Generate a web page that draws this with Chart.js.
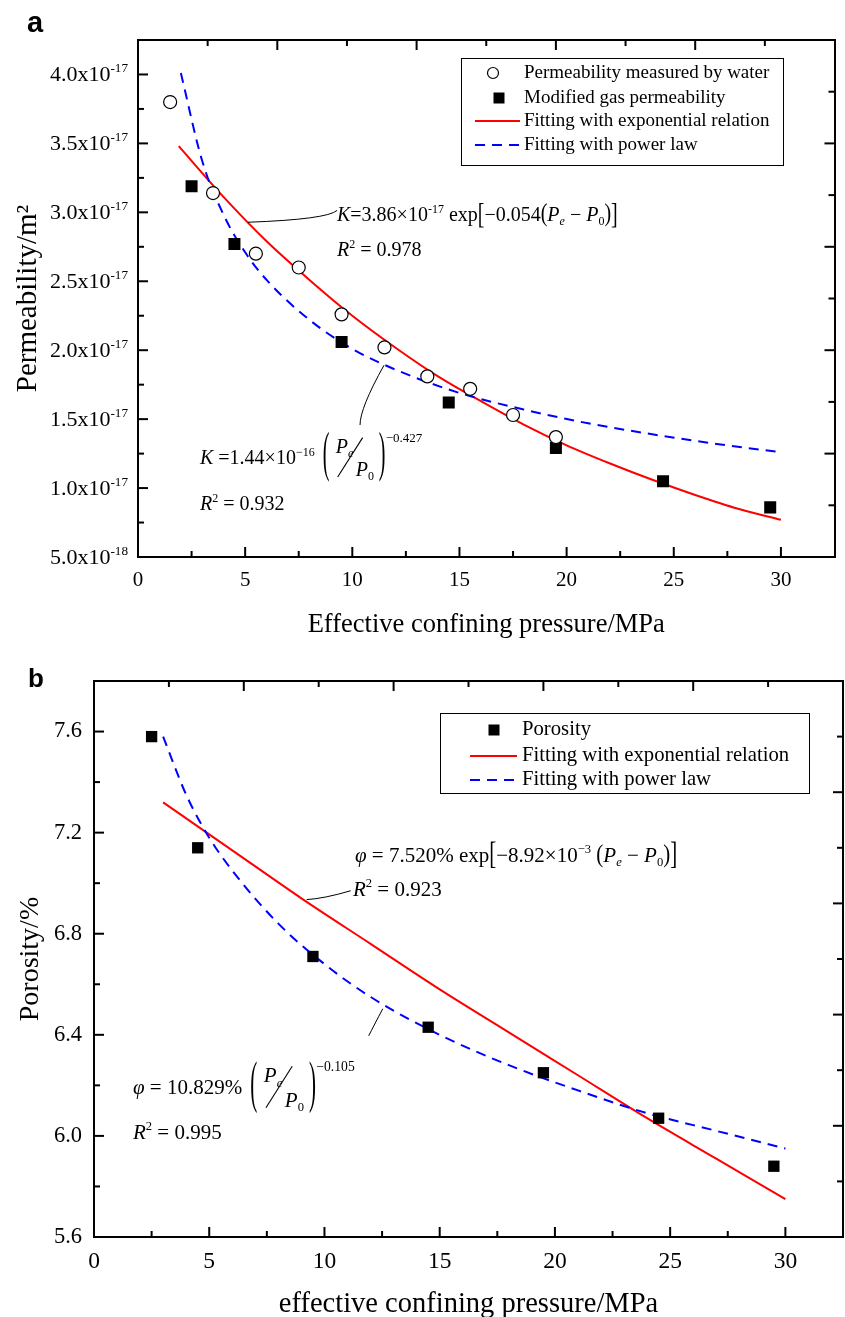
<!DOCTYPE html>
<html>
<head>
<meta charset="utf-8">
<script src="https://cdn.jsdelivr.net/npm/chart.js@4.4.0/dist/chart.umd.min.js"></script>
<style>
  html, body { margin: 0; padding: 0; background: #fff; }
  #wrap { position: relative; width: 845px; height: 1317px; }
  canvas { position: absolute; left: 0; }
  #chartA { top: 0; }
  #chartB { top: 645px; }
</style>
</head>
<body>
<div id="wrap">
  <canvas id="chartA" width="845" height="645"></canvas>
  <canvas id="chartB" width="845" height="672"></canvas>
</div>
<script>
// ==== Fonts ====
const SERIF = '"Liberation Serif", "Times New Roman", Times, serif';
const SANS = '"Liberation Sans", Arial, sans-serif';

// ==== Shared axes ====
const xMajor = [0, 5, 10, 15, 20, 25, 30];
const xMinor = [2.5, 7.5, 12.5, 17.5, 22.5, 27.5];
// top / right frame axes (Origin keeps them on their own 0..1 scale)
const frameMajor = [0.2, 0.4, 0.6, 0.8];
const frameMinor = [0.1, 0.3, 0.5, 0.7, 0.9];

// ==== Panel a : permeability ====
const waterP = [1.5, 3.5, 5.5, 7.5, 9.5, 11.5, 13.5, 15.5, 17.5, 19.5];
const waterK = [3.80e-17, 3.14e-17, 2.70e-17, 2.60e-17, 2.26e-17, 2.02e-17, 1.81e-17, 1.72e-17, 1.53e-17, 1.37e-17];
const gasP = [2.5, 4.5, 9.5, 14.5, 19.5, 24.5, 29.5];
const gasK = [3.19e-17, 2.77e-17, 2.06e-17, 1.62e-17, 1.29e-17, 1.05e-17, 0.86e-17];
const kExpP = [1.9, 4, 6, 8, 10, 12, 14, 16, 18, 20, 22, 24, 26, 28, 30];
const kExpK = [3.48e-17, 3.11e-17, 2.79e-17, 2.51e-17, 2.25e-17, 2.02e-17, 1.81e-17, 1.63e-17, 1.46e-17, 1.31e-17, 1.18e-17, 1.06e-17, 0.95e-17, 0.85e-17, 0.77e-17];
const kPowP = [2, 3, 4, 5, 6, 8, 10, 12, 15, 18, 21, 24, 27, 30];
const kPowK = [4.01e-17, 3.37e-17, 2.98e-17, 2.71e-17, 2.51e-17, 2.22e-17, 2.01e-17, 1.86e-17, 1.69e-17, 1.57e-17, 1.47e-17, 1.39e-17, 1.32e-17, 1.26e-17];
const kMajor = [0.5e-17, 1.0e-17, 1.5e-17, 2.0e-17, 2.5e-17, 3.0e-17, 3.5e-17, 4.0e-17];
const kMinor = [0.75e-17, 1.25e-17, 1.75e-17, 2.25e-17, 2.75e-17, 3.25e-17, 3.75e-17];
const kTickBase = ["5.0x10", "1.0x10", "1.5x10", "2.0x10", "2.5x10", "3.0x10", "3.5x10", "4.0x10"];
const kTickExp = ["-18", "-17", "-17", "-17", "-17", "-17", "-17", "-17"];

// ==== Panel b : porosity ====
const porP = [2.5, 4.5, 9.5, 14.5, 19.5, 24.5, 29.5];
const porV = [7.58, 7.14, 6.71, 6.43, 6.25, 6.07, 5.88];
const pExpP = [3, 6, 9, 12, 15, 18, 21, 24, 27, 30];
const pExpV = [7.32, 7.13, 6.94, 6.76, 6.58, 6.41, 6.24, 6.07, 5.91, 5.75];
const pPowP = [3, 4, 5, 6, 8, 10, 12, 15, 18, 21, 24, 27, 30];
const pPowV = [7.58, 7.35, 7.18, 7.05, 6.84, 6.68, 6.55, 6.40, 6.28, 6.18, 6.09, 6.02, 5.95];
const pMajor = [5.6, 6.0, 6.4, 6.8, 7.2, 7.6];
const pMinor = [5.8, 6.2, 6.6, 7.0, 7.4];

// ==== Helpers ====
const pts = (xs, ys) => xs.map((x, i) => ({ x, y: ys[i] }));
// keep the plot box exactly where the layout padding puts it
const noEdge = s => { s.paddingLeft = 0; s.paddingRight = 0; s.paddingTop = 0; s.paddingBottom = 0; };

// stretched glyph (tall brackets / parentheses)
function tallGlyph(ctx, ch, x, yc, h, fs) {
  ctx.font = fs + 'px ' + SERIF;
  const k = h / (0.86 * fs);
  ctx.save();
  ctx.translate(x, yc + 0.255 * fs * k);
  ctx.scale(1, k);
  ctx.fillText(ch, 0, 0);
  ctx.restore();
  return ctx.measureText(ch).width;
}

// rich text: flags i = italic, u = superscript, d = subscript, B = tall bracket, P = tall paren
function rich(ctx, x, y, segs, fs) {
  let cx = x;
  segs.forEach(([t, f = '']) => {
    if (f.includes('B') || f.includes('P')) {
      const h = f.includes('B') ? 1.3 * fs : 1.05 * fs;
      cx += tallGlyph(ctx, t, cx, y - 0.3 * fs, h, fs);
      return;
    }
    let size = fs, dy = 0;
    if (f.includes('u')) { size = fs * 0.6; dy = -fs * 0.42; }
    if (f.includes('d')) { size = fs * 0.6; dy = fs * 0.2; }
    ctx.font = (f.includes('i') ? 'italic ' : '') + size + 'px ' + SERIF;
    ctx.fillText(t, cx, y + dy);
    cx += ctx.measureText(t).width;
  });
  return cx;
}

function richWidth(ctx, segs, fs) {
  let w = 0;
  segs.forEach(([t, f = '']) => {
    const size = (f.includes('u') || f.includes('d')) ? fs * 0.6 : fs;
    ctx.font = (f.includes('i') ? 'italic ' : '') + size + 'px ' + SERIF;
    w += ctx.measureText(t).width;
  });
  return w;
}

// (Pe / P0)^expo
function fracGroup(ctx, x, b, fs, expo) {
  const h = 2.35 * fs, yc = b - 0.38 * fs;
  tallGlyph(ctx, '(', x, yc, h, fs);
  rich(ctx, x + 0.65 * fs, b - 0.55 * fs, [['P', 'i'], ['e', 'id']], fs);
  ctx.beginPath();
  ctx.lineWidth = 1.1;
  ctx.moveTo(x + 0.75 * fs, yc + 0.44 * h);
  ctx.lineTo(x + 2.0 * fs, yc - 0.4 * h);
  ctx.stroke();
  rich(ctx, x + 1.65 * fs, b + 0.6 * fs, [['P', 'i'], ['0', 'd']], fs);
  tallGlyph(ctx, ')', x + 2.8 * fs, yc, h, fs);
  rich(ctx, x + 3.15 * fs, yc - 0.3 * h, [[expo]], fs * 0.65);
}

function leader(ctx, sx, sy, list) {
  const p = list.map(([a, b]) => [sx.getPixelForValue(a), sy.getPixelForValue(b)]);
  ctx.beginPath();
  ctx.lineWidth = 1;
  ctx.moveTo(p[0][0], p[0][1]);
  ctx.quadraticCurveTo(p[1][0], p[1][1], p[2][0], p[2][1]);
  ctx.stroke();
}

function drawLegend(ctx, chart, L) {
  ctx.lineWidth = 1;
  ctx.strokeStyle = '#000';
  ctx.strokeRect(L.box[0] + 0.5, L.box[1] + 0.5, L.box[2] - L.box[0], L.box[3] - L.box[1]);
  ctx.textAlign = 'left';
  ctx.textBaseline = 'middle';
  chart.data.datasets.forEach((ds, i) => {
    const yy = L.rows[i];
    if (!ds.showLine) {
      if (ds.pointStyle === 'circle') {
        ctx.beginPath();
        ctx.arc(L.circleX, yy, 5.5, 0, 2 * Math.PI);
        ctx.fillStyle = '#fff';
        ctx.fill();
        ctx.lineWidth = 1.2;
        ctx.strokeStyle = '#000';
        ctx.stroke();
      } else {
        ctx.fillStyle = '#000';
        ctx.fillRect(L.squareX - 5.5, yy - 5.5, 11, 11);
      }
    } else {
      ctx.beginPath();
      ctx.setLineDash(ds.borderDash || []);
      ctx.strokeStyle = ds.borderColor;
      ctx.lineWidth = 2;
      ctx.moveTo(L.line[0], yy);
      ctx.lineTo(L.line[1], yy);
      ctx.stroke();
      ctx.setLineDash([]);
    }
    ctx.fillStyle = '#000';
    ctx.font = L.size + 'px ' + SERIF;
    ctx.fillText(ds.label, L.textX, yy);
  });
}

// ==== Decoration plugin: inward ticks, legend, formulas, panel letter ====
function decor(spec) {
  return {
    id: 'decor' + spec.letter.t,
    afterDraw(chart) {
      const { ctx, chartArea: ca } = chart;
      const { x, y, x2, y2 } = chart.scales;
      ctx.save();
      ctx.strokeStyle = '#000';
      ctx.fillStyle = '#000';
      ctx.lineWidth = 2;
      const seg = (a, b, c, d) => { ctx.beginPath(); ctx.moveTo(a, b); ctx.lineTo(c, d); ctx.stroke(); };
      const BIG = 10, SMALL = 6;
      xMajor.forEach(v => { const p = x.getPixelForValue(v); seg(p, ca.bottom, p, ca.bottom - BIG); });
      xMinor.forEach(v => { const p = x.getPixelForValue(v); seg(p, ca.bottom, p, ca.bottom - SMALL); });
      spec.yMajor.forEach(v => { const p = y.getPixelForValue(v); seg(ca.left, p, ca.left + BIG, p); });
      spec.yMinor.forEach(v => { const p = y.getPixelForValue(v); seg(ca.left, p, ca.left + SMALL, p); });
      frameMajor.forEach(v => {
        const p = x2.getPixelForValue(v); seg(p, ca.top, p, ca.top + BIG);
        const q = y2.getPixelForValue(v); seg(ca.right, q, ca.right - BIG, q);
      });
      frameMinor.forEach(v => {
        const p = x2.getPixelForValue(v); seg(p, ca.top, p, ca.top + SMALL);
        const q = y2.getPixelForValue(v); seg(ca.right, q, ca.right - SMALL, q);
      });

      ctx.textAlign = 'left';
      ctx.textBaseline = 'alphabetic';
      if (spec.sciLabels) {
        spec.yMajor.forEach((v, i) => {
          const segs = [[kTickBase[i]], [kTickExp[i], 'u']];
          const w = richWidth(ctx, segs, 22);
          rich(ctx, ca.left - 10 - w, y.getPixelForValue(v) + 7, segs, 22);
        });
      }

      drawLegend(ctx, chart, spec.legend);

      ctx.strokeStyle = '#000';
      ctx.fillStyle = '#000';
      ctx.textAlign = 'left';
      ctx.textBaseline = 'alphabetic';
      spec.notes(ctx, x, y);

      ctx.font = 'bold ' + spec.letter.size + 'px ' + SANS;
      ctx.fillText(spec.letter.t, spec.letter.x, spec.letter.y);
      ctx.restore();
    }
  };
}

function makeChart(id, cfg) {
  return new Chart(document.getElementById(id), {
    type: 'scatter',
    data: { datasets: cfg.datasets },
    options: {
      responsive: false,
      animation: false,
      devicePixelRatio: 1,
      events: [],
      layout: { padding: cfg.pad, autoPadding: false },
      plugins: { legend: { display: false }, tooltip: { enabled: false } },
      scales: {
        x: {
          type: 'linear', position: 'bottom', min: 0, max: 32.5,
          afterBuildTicks: s => { s.ticks = xMajor.map(v => ({ value: v })); },
          afterFit: s => { s.height = cfg.xHeight; noEdge(s); },
          grid: { display: false, drawTicks: false },
          border: { display: true, color: '#000', width: 2 },
          ticks: { color: '#000', font: { family: SERIF, size: cfg.xTickSize }, padding: cfg.xTickPad, maxRotation: 0, autoSkip: false },
          title: { display: true, text: cfg.xTitle, color: '#000', font: { family: SERIF, size: cfg.xTitleSize }, padding: { top: 0, bottom: cfg.xTitlePad } }
        },
        y: {
          type: 'linear', position: 'left', min: cfg.yMin, max: cfg.yMax,
          afterBuildTicks: s => { s.ticks = cfg.yMajor.map(v => ({ value: v })); },
          afterFit: s => { s.width = cfg.yWidth; noEdge(s); },
          grid: { display: false, drawTicks: false },
          border: { display: true, color: '#000', width: 2 },
          ticks: { display: !cfg.sciLabels, color: '#000', font: { family: SERIF, size: cfg.yTickSize }, padding: 12,
                   callback: v => v.toFixed(1) },
          title: { display: true, text: cfg.yTitle, color: '#000', font: { family: SERIF, size: cfg.yTitleSize }, padding: { top: cfg.yTitlePad, bottom: 0 } }
        },
        x2: {
          type: 'linear', position: 'top', min: 0, max: 1,
          afterFit: s => { s.height = 0; noEdge(s); },
          grid: { display: false, drawTicks: false },
          ticks: { display: false },
          border: { display: true, color: '#000', width: 2 }
        },
        y2: {
          type: 'linear', position: 'right', min: 0, max: 1,
          afterFit: s => { s.width = 0; noEdge(s); },
          grid: { display: false, drawTicks: false },
          ticks: { display: false },
          border: { display: true, color: '#000', width: 2 }
        }
      }
    },
    plugins: [decor(cfg)]
  });
}

// ==== Chart a ====
makeChart('chartA', {
  datasets: [
    { label: 'Permeability measured by water', data: pts(waterP, waterK), pointStyle: 'circle', pointRadius: 6.5,
      backgroundColor: '#fff', borderColor: '#000', borderWidth: 1.2, order: 0 },
    { label: 'Modified gas permeability', data: pts(gasP, gasK), pointStyle: 'rect', pointRadius: 8.5,
      backgroundColor: '#000', borderColor: '#000', borderWidth: 0, order: 1 },
    { label: 'Fitting with exponential relation', data: pts(kExpP, kExpK), showLine: true, pointRadius: 0,
      borderColor: '#ff0000', borderWidth: 2, cubicInterpolationMode: 'monotone', order: 3 },
    { label: 'Fitting with power law', data: pts(kPowP, kPowK), showLine: true, pointRadius: 0,
      borderColor: '#0000ff', borderWidth: 2, borderDash: [10, 7], cubicInterpolationMode: 'monotone', order: 2 }
  ],
  pad: { left: 0, top: 40, right: 10.5, bottom: 0 },
  xHeight: 88, xTickSize: 21, xTickPad: 11, xTitle: 'Effective confining pressure/MPa', xTitleSize: 26.5, xTitlePad: 4,
  yMin: 0.5e-17, yMax: 4.25e-17, yMajor: kMajor, yMinor: kMinor, yWidth: 138, sciLabels: true, yTickSize: 22,
  yTitle: 'Permeability/m²', yTitleSize: 29, yTitlePad: 11,
  legend: { box: [461, 58, 783, 165], rows: [73, 98, 121, 145], circleX: 493, squareX: 499, line: [475, 520], textX: 524, size: 19 },
  letter: { t: 'a', x: 27, y: 32, size: 29 },
  notes(ctx, sx, sy) {
    leader(ctx, sx, sy, [[5.13, 2.928e-17], [8.82, 2.949e-17], [9.29, 3.014e-17]]);
    leader(ctx, sx, sy, [[11.48, 1.891e-17], [10.36, 1.58e-17], [10.36, 1.457e-17]]);
    const fs = 20;
    rich(ctx, 337, 221, [['K', 'i'], ['=3.86×10'], ['-17', 'u'], [' exp'], ['[', 'B'], ['−0.054'], ['(', 'P'],
      ['P', 'i'], ['e', 'id'], [' − '], ['P', 'i'], ['0', 'd'], [')', 'P'], [']', 'B']], fs);
    rich(ctx, 337, 256, [['R', 'i'], ['2', 'u'], [' = 0.978']], fs);
    const xe = rich(ctx, 200, 464, [['K', 'i'], [' =1.44×10'], ['−16', 'u']], fs);
    fracGroup(ctx, xe + 8, 464, fs, '−0.427');
    rich(ctx, 200, 510, [['R', 'i'], ['2', 'u'], [' = 0.932']], fs);
  }
});

// ==== Chart b ====
makeChart('chartB', {
  datasets: [
    { label: 'Porosity', data: pts(porP, porV), pointStyle: 'rect', pointRadius: 8,
      backgroundColor: '#000', borderColor: '#000', borderWidth: 0, order: 0 },
    { label: 'Fitting with exponential relation', data: pts(pExpP, pExpV), showLine: true, pointRadius: 0,
      borderColor: '#ff0000', borderWidth: 2, cubicInterpolationMode: 'monotone', order: 2 },
    { label: 'Fitting with power law', data: pts(pPowP, pPowV), showLine: true, pointRadius: 0,
      borderColor: '#0000ff', borderWidth: 2, borderDash: [10, 7], cubicInterpolationMode: 'monotone', order: 1 }
  ],
  pad: { left: 0, top: 36, right: 2, bottom: 0 },
  xHeight: 80, xTickSize: 23.5, xTickPad: 11, xTitle: 'effective confining pressure/MPa', xTitleSize: 28.5, xTitlePad: -5,
  yMin: 5.6, yMax: 7.8, yMajor: pMajor, yMinor: pMinor, yWidth: 94, sciLabels: false, yTickSize: 22.5,
  yTitle: 'Porosity/%', yTitleSize: 28, yTitlePad: 14,
  legend: { box: [440, 68, 809, 148], rows: [85, 111, 135], circleX: 494, squareX: 494, line: [470, 517], textX: 522, size: 20.7 },
  letter: { t: 'b', x: 28, y: 42, size: 26 },
  notes(ctx, sx, sy) {
    leader(ctx, sx, sy, [[9.23, 6.935], [9.97, 6.939], [11.14, 6.97]]);
    leader(ctx, sx, sy, [[12.53, 6.503], [12.14, 6.436], [11.92, 6.396]]);
    const fs = 21;
    rich(ctx, 355, 217, [['φ', 'i'], [' = 7.520% exp'], ['[', 'B'], ['−8.92×10'], ['−3', 'u'], [' '], ['(', 'P'],
      ['P', 'i'], ['e', 'id'], [' − '], ['P', 'i'], ['0', 'd'], [')', 'P'], [']', 'B']], fs);
    rich(ctx, 353, 251, [['R', 'i'], ['2', 'u'], [' = 0.923']], fs);
    const xe = rich(ctx, 133, 449, [['φ', 'i'], [' = 10.829%']], fs);
    fracGroup(ctx, xe + 8, 449, fs, '−0.105');
    rich(ctx, 133, 494, [['R', 'i'], ['2', 'u'], [' = 0.995']], fs);
  }
});
</script>
</body>
</html>
